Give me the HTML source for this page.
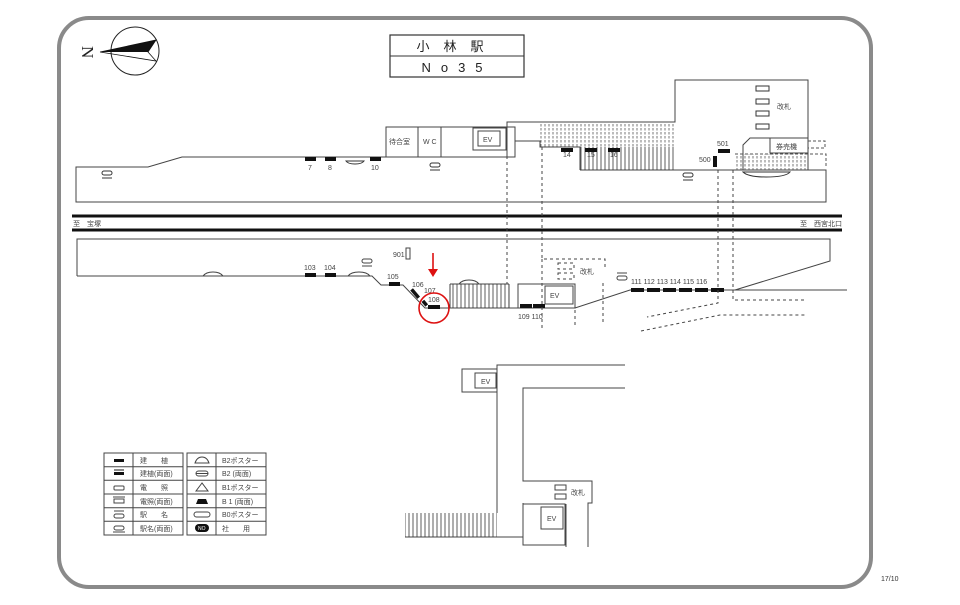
<!DOCTYPE html>
<html><head><meta charset="utf-8"><style>
html,body{margin:0;padding:0;background:#fff;width:960px;height:605px;overflow:hidden}
svg text{font-family:"Liberation Sans","Noto Sans CJK JP",sans-serif;fill:#444}
</style></head><body>
<svg width="960" height="605" viewBox="0 0 960 605" xmlns="http://www.w3.org/2000/svg">
<defs>
<pattern id="vh" width="4" height="10" patternUnits="userSpaceOnUse"><line x1="1" y1="0" x2="1" y2="10" stroke="#333" stroke-width="0.8"/></pattern>
<pattern id="vhd" width="4" height="4" patternUnits="userSpaceOnUse"><line x1="1" y1="0" x2="1" y2="2.5" stroke="#555" stroke-width="0.8"/></pattern>
</defs>
<rect x="59" y="18" width="812" height="569" rx="30" fill="none" stroke="#8a8a8a" stroke-width="4"/>
<circle cx="135" cy="51" r="24" fill="none" stroke="#222" stroke-width="1"/>
<text x="82" y="58" font-size="17" style="fill:#222;font-family:'Liberation Serif',serif" transform="rotate(90 88 52)">N</text>
<polygon points="100,52 156,40 148,52" fill="#111"/>
<polyline points="100,52 156,40 148,52 156,61 100,52" fill="none" stroke="#111" stroke-width="0.8"/>
<rect x="390" y="35" width="134" height="42" fill="#fff" stroke="#333" stroke-width="1.2"/>
<line x1="390" y1="56" x2="524" y2="56" stroke="#333" stroke-width="1"/>
<text x="457" y="51" font-size="13" text-anchor="middle" style="fill:#222" letter-spacing="14">小林駅</text>
<text x="457" y="72" font-size="13" text-anchor="middle" style="fill:#222" letter-spacing="10">No35</text>

<g fill="none" stroke="#444" stroke-width="1">
<polyline points="386,157 182,157 148,167 76,167 76,202 826,202 826,170 580,170"/>
<rect x="386" y="127" width="129" height="30"/>
<line x1="418" y1="127" x2="418" y2="157"/><line x1="441" y1="127" x2="441" y2="157"/>
<rect x="473" y="128" width="33" height="22"/><rect x="478" y="131" width="22" height="15"/>
<polyline points="507,157 507,122 675,122 675,80 808,80 808,170"/>
<polyline points="515,141 540,141 540,147 580,147 580,170"/>
<polyline points="743,170 743,145 750,138 808,138"/>
<polyline points="770,138 770,153 808,153"/>
</g>
<rect x="540" y="123" width="134" height="24" fill="url(#vhd)"/>
<rect x="580" y="147" width="94" height="23" fill="url(#vh)"/>
<rect x="735" y="154" width="73" height="16" fill="url(#vhd)"/>
<g fill="none" stroke="#555" stroke-width="1" stroke-dasharray="3,2">
<polyline points="808,141 825,141 825,148 808,148"/>
<polyline points="735,154 826,154 826,167"/>
</g>
<g fill="none" stroke="#333" stroke-width="1">
<rect x="756" y="86" width="13" height="5"/><rect x="756" y="99" width="13" height="5"/><rect x="756" y="111" width="13" height="5"/><rect x="756" y="124" width="13" height="5"/>
<path d="M743,172 L790,172 Q786,177 766,177 Q748,177 743,172Z"/>
<path d="M346,161 L364,161 Q362,164 355,164 Q348,164 346,161Z"/>
<rect x="430" y="163" width="10" height="4" rx="2"/><line x1="430" y1="170" x2="440" y2="170"/>
<rect x="102" y="171" width="10" height="4" rx="2"/><line x1="102" y1="178" x2="112" y2="178"/>
<rect x="683" y="173" width="10" height="4" rx="2"/><line x1="683" y1="180" x2="693" y2="180"/>
</g>
<g fill="#111">
<rect x="305" y="157" width="11" height="4"/><rect x="325" y="157" width="11" height="4"/><rect x="370" y="157" width="11" height="4"/>
<rect x="561" y="148" width="12" height="4"/><rect x="585" y="148" width="12" height="4"/><rect x="608" y="148" width="12" height="4"/>
<rect x="713" y="156" width="4" height="11"/><rect x="718" y="149" width="12" height="4"/>
</g>
<g font-size="7">
<text x="308" y="170">7</text><text x="328" y="170">8</text><text x="371" y="170">10</text>
<text x="563" y="157">14</text><text x="587" y="157">15</text><text x="610" y="157">16</text>
<text x="699" y="162">500</text><text x="717" y="146">501</text>
<text x="389" y="144">待合室</text>
<text x="423" y="144">W C</text>
<text x="483" y="142">EV</text>
<text x="777" y="109">改札</text><text x="776" y="149">券売機</text>
</g>
<line x1="72" y1="216" x2="842" y2="216" stroke="#111" stroke-width="3"/>
<line x1="72" y1="230" x2="842" y2="230" stroke="#111" stroke-width="3"/>
<text x="73" y="226" font-size="7">至　宝塚</text>
<text x="800" y="226" font-size="7">至　西宮北口</text>

<g fill="none" stroke="#444" stroke-width="1">
<polyline points="77,276 77,239 830,239 830,261 735,290 847,290"/>
<polyline points="77,276 372,276 381,285 403,285 425,308 575,308 630,290 735,290"/>
<rect x="518" y="284" width="57" height="24"/>
<rect x="545" y="286" width="28" height="18"/>
<rect x="406" y="248" width="4" height="11"/>
<path d="M203,276 Q206,272 213,272 Q220,272 223,276"/>
<path d="M348,276 Q351,272 359,272 Q367,272 370,276"/>
<path d="M459,284 Q462,280 469,280 Q476,280 479,284"/>
<rect x="362" y="259" width="10" height="4" rx="2"/><line x1="362" y1="266" x2="372" y2="266"/>
<rect x="617" y="276" width="10" height="4" rx="2"/><line x1="617" y1="273" x2="627" y2="273"/>
<line x1="450" y1="284" x2="509" y2="284"/><line x1="450" y1="284" x2="450" y2="308"/><line x1="509" y1="284" x2="509" y2="308"/>
</g>
<rect x="450" y="284" width="59" height="24" fill="url(#vh)"/>
<g fill="#111">
<rect x="305" y="273" width="11" height="4"/><rect x="325" y="273" width="11" height="4"/><rect x="389" y="282" width="11" height="4"/>
<rect x="413" y="288" width="3.5" height="11" transform="rotate(-40 415 293)"/>
<rect x="423" y="300" width="3.5" height="6" transform="rotate(-40 425 303)"/>
<rect x="428" y="305" width="12" height="4"/>
<rect x="520" y="304" width="12" height="4"/><rect x="533" y="304" width="12" height="4"/>
<rect x="631" y="288" width="13" height="4"/><rect x="647" y="288" width="13" height="4"/><rect x="663" y="288" width="13" height="4"/><rect x="679" y="288" width="13" height="4"/><rect x="695" y="288" width="13" height="4"/><rect x="711" y="288" width="13" height="4"/>
</g>
<g font-size="7">
<text x="304" y="270">103</text><text x="324" y="270">104</text><text x="387" y="279">105</text>
<text x="412" y="287">106</text><text x="424" y="293">107</text><text x="428" y="302">108</text>
<text x="393" y="257">901</text>
<text x="518" y="319">109 110</text>
<text x="631" y="284">111 112 113 114 115 116</text>
<text x="550" y="298">EV</text><text x="580" y="274">改札</text>
</g>
<g fill="none" stroke="#444" stroke-width="1" stroke-dasharray="3,3">
<line x1="507" y1="150" x2="507" y2="284"/>
<polyline points="542,147 542,259 605,259 605,270"/>
<line x1="542" y1="259" x2="542" y2="330"/>
<line x1="603" y1="283" x2="603" y2="325"/>
<line x1="575" y1="310" x2="575" y2="328"/>
<polyline points="718,170 718,303 647,317"/>
<polyline points="733,170 733,300 806,300"/>
<polyline points="641,331 720,315 807,315"/>
<rect x="558" y="263" width="16" height="6"/><rect x="558" y="273" width="16" height="6"/>
</g>
<line x1="433" y1="253" x2="433" y2="273" stroke="#d11" stroke-width="1.6"/>
<polygon points="428,269 438,269 433,277" fill="#d11"/>
<circle cx="434" cy="308" r="15" fill="none" stroke="#d11" stroke-width="1.6"/>

<g fill="none" stroke="#444" stroke-width="1">
<rect x="462" y="369" width="35" height="23"/><rect x="475" y="373" width="21" height="15"/>
<polyline points="625,365 497,365 497,513"/>
<polyline points="625,388 523,388 523,481 592,481 592,503 588,503 588,547"/>
<polyline points="405,537 523,537 523,503"/>
<rect x="523" y="504" width="42" height="41"/><rect x="541" y="507" width="22" height="22"/>
<line x1="566" y1="504" x2="566" y2="547"/>
<rect x="555" y="485" width="11" height="5"/><rect x="555" y="494" width="11" height="5"/>
</g>
<rect x="405" y="513" width="92" height="24" fill="url(#vh)"/>
<g font-size="7"><text x="481" y="384">EV</text><text x="547" y="521">EV</text><text x="571" y="495">改札</text></g>

<g fill="none" stroke="#444" stroke-width="1">
<rect x="104" y="453" width="79" height="82"/><line x1="133" y1="453" x2="133" y2="535"/>
<rect x="187" y="453" width="79" height="82"/><line x1="216" y1="453" x2="216" y2="535"/>
<path d="M104,466.7H183M104,480.3H183M104,494H183M104,507.7H183M104,521.3H183M187,466.7H266M187,480.3H266M187,494H266M187,507.7H266M187,521.3H266"/>
<rect x="114" y="486" width="10" height="4" rx="1"/><rect x="114" y="499" width="10" height="4"/><line x1="113" y1="497" x2="125" y2="497"/>
<rect x="114" y="514" width="10" height="4" rx="2"/><line x1="114" y1="511" x2="124" y2="511"/>
<rect x="114" y="526" width="10" height="4" rx="2"/><line x1="113" y1="532" x2="125" y2="532"/>
<path d="M195,463 Q197,457 202,457 Q207,457 209,463Z"/><rect x="196" y="471" width="12" height="5" rx="2.5"/><line x1="196" y1="473.5" x2="208" y2="473.5"/>
<polygon points="202,483 196,491 208,491"/><rect x="194" y="512" width="16" height="5" rx="2.5"/>
</g>
<g fill="#111"><rect x="114" y="459" width="10" height="3"/><rect x="114" y="472" width="10" height="3"/><line x1="114" y1="470" x2="124" y2="470" stroke="#111"/><path d="M196,504 L208,504 L206,499 L198,499Z"/><rect x="195" y="524" width="14" height="8" rx="4"/></g>
<text x="198" y="530" font-size="5" style="fill:#fff">NO</text>
<g font-size="7" style="fill:#333">
<text x="140" y="463">建　　植</text><text x="140" y="476">建植(両面)</text><text x="140" y="490">電　　照</text><text x="140" y="504">電照(両面)</text><text x="140" y="517">駅　　名</text><text x="140" y="531">駅名(両面)</text>
<text x="222" y="463">B2ポスター</text><text x="222" y="476">B2 (両面)</text><text x="222" y="490">B1ポスター</text><text x="222" y="504">B 1 (両面)</text><text x="222" y="517">B0ポスター</text><text x="222" y="531">社　　用</text>
</g>
<text x="881" y="581" font-size="7" style="fill:#333">17/10</text>
</svg>
</body></html>
